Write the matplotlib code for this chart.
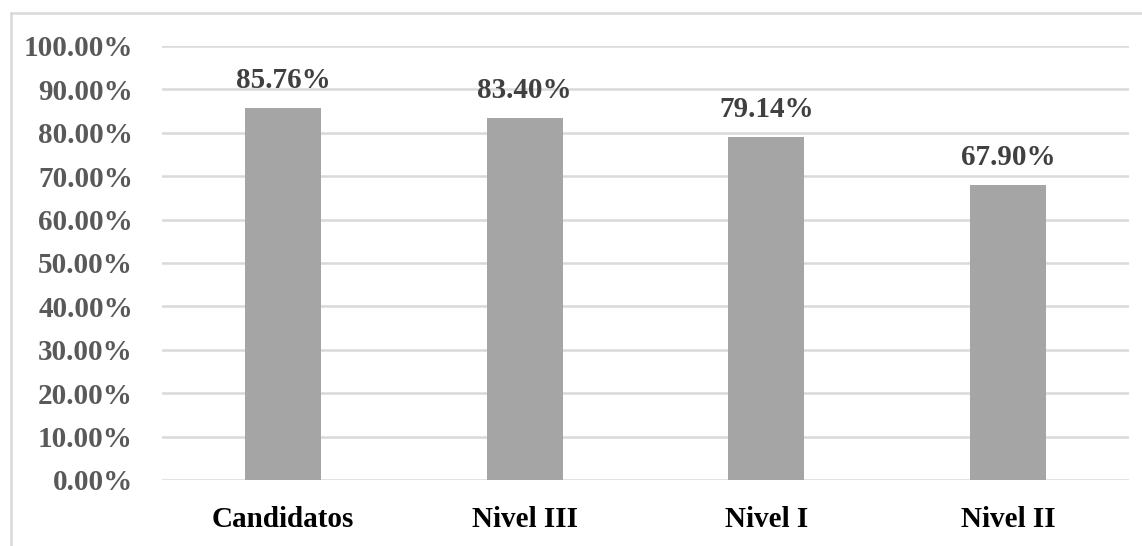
import matplotlib.pyplot as plt
from matplotlib.lines import Line2D

categorias = ['Candidatos', 'Nivel III', 'Nivel I', 'Nivel II']
valores = [85.76, 83.40, 79.14, 67.90]
ticks = [0, 10, 20, 30, 40, 50, 60, 70, 80, 90, 100]

plt.rcParams['font.family'] = ['Liberation Serif', 'DejaVu Serif']
plt.rcParams['font.weight'] = 'bold'

fig = plt.figure(figsize=(11.42, 5.46), dpi=100)
ax = fig.add_axes([0.1419, 0.1209, 0.9886 - 0.1419, 0.9158 - 0.1209])

x = list(range(len(categorias)))
ax.bar(x, valores, width=0.315, color='#A5A5A5', zorder=3)

for xi, v in zip(x, valores):
    ax.text(xi, v + 4.6, f'{v:.2f}%', ha='center', va='baseline',
            fontsize=21, fontweight='bold', color='#404040')

ax.set_xlim(-0.5, len(categorias) - 0.5)
ax.set_ylim(0, 100)
ax.set_yticks(ticks)
ax.set_yticklabels([f'{t:.2f}%' for t in ticks], fontsize=21, fontweight='bold', color='#595959')
ax.set_xticks(x)
ax.set_xticklabels(categorias, fontsize=21, fontweight='bold', color='black')
ax.tick_params(axis='y', length=0, pad=21)
ax.tick_params(axis='x', length=0, pad=19)

ax.grid(axis='y', color='#D9D9D9', linewidth=1.8, zorder=0)
for s in ax.spines.values():
    s.set_visible(False)

# marco del grafico (solo arriba e izquierda visibles)
fig.add_artist(Line2D([11 / 1142, 1], [1 - 13 / 546] * 2, transform=fig.transFigure,
                      color='#D9D9D9', linewidth=1.8))
fig.add_artist(Line2D([11 / 1142] * 2, [0, 1 - 13 / 546], transform=fig.transFigure,
                      color='#D9D9D9', linewidth=1.8))

fig.savefig('out.png', dpi=100)
